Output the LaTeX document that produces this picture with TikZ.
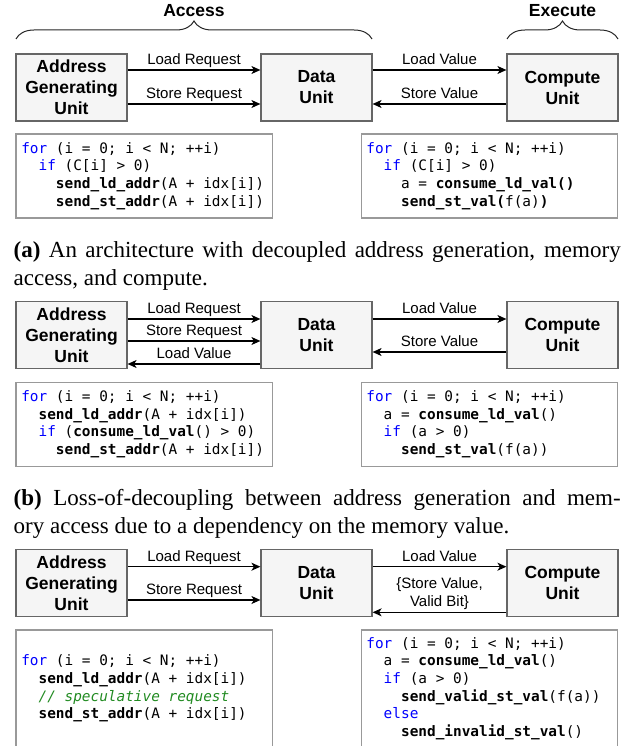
\documentclass[tikz,border=0pt]{standalone}
\usepackage{fontspec}
\setmainfont{Liberation Serif}
\setsansfont{Liberation Sans}
\setmonofont{DejaVu Sans Mono}
\usepackage{xcolor}
\usetikzlibrary{arrows.meta,decorations.pathreplacing}
\tikzset{>={Stealth[length=9pt,width=8pt,inset=2.5pt]}}
\definecolor{boxfill}{HTML}{F5F5F5}
\definecolor{boxline}{HTML}{666666}
\definecolor{codeline}{HTML}{999999}
\definecolor{kwblue}{HTML}{0000FF}
\definecolor{cmtgreen}{HTML}{228B22}
\newcommand{\monosp}{\spaceskip=\fontcharwd\font`x\relax\xspaceskip=\spaceskip}
\newcommand{\kw}[1]{\textcolor{kwblue}{#1}}
\newcommand{\fn}[1]{\textbf{#1}}
\newcommand{\cmt}[1]{\textcolor{cmtgreen}{\itshape #1}}
\newcommand{\ind}{\phantom{xx}}

\tikzset{
  block/.style={draw=boxline, fill=boxfill, line width=1.2pt, minimum width=111pt, minimum height=67pt,
    inner sep=0pt, align=center, font=\fontsize{17.5}{21}\selectfont\sffamily\bfseries},
  codebox/.style={draw=codeline, line width=1.2pt, minimum height=84pt, text width=246pt,
    inner xsep=5.25pt, inner ysep=0pt, align=left, font=\fontsize{14.4}{17.7}\selectfont\ttfamily,
    execute at begin node=\monosp},
  lbl/.style={anchor=base, yshift=5.5pt, inner sep=0pt, font=\fontsize{15}{18.4}\selectfont\sffamily},
  heading/.style={anchor=base, inner sep=0pt, font=\fontsize{17.5}{21}\selectfont\sffamily\bfseries},
  capline/.style={anchor=base west, inner sep=0pt, font=\fontsize{23}{28}\selectfont},
  curly/.style={decorate, decoration={brace, amplitude=18pt}, line width=1pt, black!85}
}

\begin{document}
\begin{tikzpicture}[x=1pt,y=-1pt]
\clip (0,0) rectangle (621,746);

% Headings
\node[heading] (access) at (194,17) {Access};
\node[heading] (execute) at (562.5,17) {Execute};
\draw[curly] (16,39) -- (372,39);
\draw[curly] (507,39) -- (618,39);

%% (a) decoupled
\node[block] (aguA) at (71.5,87.5) {Address\\Generating\\Unit};
\node[block] (duA) at (316.5,87.5) {Data\\Unit};
\node[block] (cuA) at (562.5,87.5) {Compute\\Unit};

\draw[->,line width=1.2pt] (aguA.east |- 0,70) -- node[lbl]{Load Request} (duA.west |- 0,70);
\draw[->,line width=1.2pt] (aguA.east |- 0,104) -- node[lbl]{Store Request} (duA.west |- 0,104);
\draw[->,line width=1.2pt] (duA.east |- 0,70) -- node[lbl]{Load Value} (cuA.west |- 0,70);
\draw[->,line width=1.2pt] (cuA.west |- 0,104) -- node[lbl]{Store Value} (duA.east |- 0,104);

\node[codebox] (codeA1) at (144.25,176) {\kw{for} (i = 0; i < N; ++i)\\
\ind\kw{if} (C[i] > 0)\\
\ind\ind\fn{send\_ld\_addr}(A + idx[i])\\
\ind\ind\fn{send\_st\_addr}(A + idx[i])};
\node[codebox] (codeA2) at (489.4,176) {\kw{for} (i = 0; i < N; ++i)\\
\ind\kw{if} (C[i] > 0)\\
\ind\ind a = \fn{consume\_ld\_val()}\\
\ind\ind\fn{send\_st\_val(}f(a)\fn{)}};

\node[capline] (capA1) at (13.5,257) {\makebox[607pt][s]{\textbf{(a)} An architecture with decoupled address generation, memory}};
\node[capline] (capA2) at (13.5,285) {access, and compute.};

%% (b) loss of decoupling
\node[block] (aguB) at (71.5,335.3) {Address\\Generating\\Unit};
\node[block] (duB) at (316.5,335.3) {Data\\Unit};
\node[block] (cuB) at (562.5,335.3) {Compute\\Unit};

\draw[->,line width=1.2pt] (aguB.east |- 0,319) -- node[lbl]{Load Request} (duB.west |- 0,319);
\draw[->,line width=1.2pt] (aguB.east |- 0,341) -- node[lbl]{Store Request} (duB.west |- 0,341);
\draw[->,line width=1.2pt] (duB.west |- 0,364) -- node[lbl]{Load Value} (aguB.east |- 0,364);
\draw[->,line width=1.2pt] (duB.east |- 0,319) -- node[lbl]{Load Value} (cuB.west |- 0,319);
\draw[->,line width=1.2pt] (cuB.west |- 0,352) -- node[lbl]{Store Value} (duB.east |- 0,352);

\node[codebox] (codeB1) at (144.25,424.3) {\kw{for} (i = 0; i < N; ++i)\\
\ind\fn{send\_ld\_addr}(A + idx[i])\\
\ind\kw{if} (\fn{consume\_ld\_val}() > 0)\\
\ind\ind\fn{send\_st\_addr}(A + idx[i])};
\node[codebox] (codeB2) at (489.4,424.3) {\kw{for} (i = 0; i < N; ++i)\\
\ind a = \fn{consume\_ld\_val}()\\
\ind\kw{if} (a > 0)\\
\ind\ind\fn{send\_st\_val}(f(a))};

\node[capline] (capB1) at (13.5,505) {\makebox[607pt][s]{\textbf{(b)} Loss-of-decoupling between address generation and mem-}};
\node[capline] (capB2) at (13.5,533) {ory access due to a dependency on the memory value.};

%% (c) speculative store requests
\node[block] (aguC) at (71.5,583) {Address\\Generating\\Unit};
\node[block] (duC) at (316.5,583) {Data\\Unit};
\node[block] (cuC) at (562.5,583) {Compute\\Unit};

\draw[->,line width=1.2pt] (aguC.east |- 0,566.7) -- node[lbl]{Load Request} (duC.west |- 0,566.7);
\draw[->,line width=1.2pt] (aguC.east |- 0,600) -- node[lbl]{Store Request} (duC.west |- 0,600);
\draw[->,line width=1.2pt] (duC.east |- 0,566.7) -- node[lbl]{Load Value} (cuC.west |- 0,566.7);
\draw[->,line width=1.2pt] (cuC.west |- 0,612.3) -- node[lbl,anchor=south,yshift=-3.4pt,align=center]{\{Store Value,\\Valid Bit\}} (duC.east |- 0,612.3);

\node[codebox,minimum height=117pt] (codeC1) at (144.25,688.5) {\kw{for} (i = 0; i < N; ++i)\\
\ind\fn{send\_ld\_addr}(A + idx[i])\\
\ind\cmt{// speculative request}\\
\ind\fn{send\_st\_addr}(A + idx[i])};
\node[codebox,minimum height=117pt] (codeC2) at (489.4,688.5) {\kw{for} (i = 0; i < N; ++i)\\
\ind a = \fn{consume\_ld\_val}()\\
\ind\kw{if} (a > 0)\\
\ind\ind\fn{send\_valid\_st\_val}(f(a))\\
\ind\kw{else}\\
\ind\ind\fn{send\_invalid\_st\_val}()};

\end{tikzpicture}
\end{document}
